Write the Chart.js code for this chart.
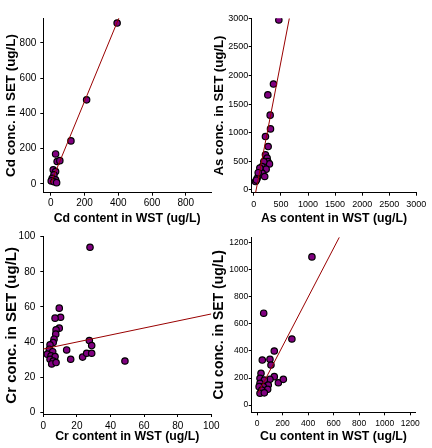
<!DOCTYPE html>
<html><head><meta charset="utf-8">
<script src="https://cdn.jsdelivr.net/npm/chart.js@4.4.0/dist/chart.umd.min.js"></script>
<style>
html,body{margin:0;padding:0;background:#fff;}
#wrap{position:relative;width:432px;height:448px;overflow:hidden;}
canvas{position:absolute;left:0;top:0;}
</style></head><body>
<div id="wrap">
<canvas id="cCd" width="432" height="448"></canvas>
<canvas id="cAs" width="432" height="448"></canvas>
<canvas id="cCr" width="432" height="448"></canvas>
<canvas id="cCu" width="432" height="448"></canvas>
</div>
<script>
// ---- Data ----
const cdX = [393, 212, 119, 28, 37, 53, 14, 28, 18, 8, 28, 2, 18, 34];
const cdY = [913, 477, 244, 170, 127, 132, 80, 70, 51, 32, 23, 17, 12, 7];
const cdTrendX = [0, 405];
const cdTrendY = [5, 945];
const cdTicks = [0, 200, 400, 600, 800];

const asX = [461, 362, 258, 301, 307, 214, 264, 214, 245, 258, 288, 184, 153, 227, 122, 92, 61, 30, 153, 110, 80, 48, 200];
const asY = [2970, 1850, 1660, 1306, 1066, 932, 757, 612, 554, 495, 454, 495, 408, 362, 320, 262, 204, 145, 292, 380, 300, 170, 233];
const asTrendX = [32, 655];
const asTrendY = [-50, 3000];
const asTicks = [0, 500, 1000, 1500, 2000, 2500, 3000];

const crX = [27.8, 48.6, 9.5, 10.3, 7, 9.5, 7.6, 7.4, 6.4, 5.9, 4, 3.6, 5.6, 2.4, 4.6, 7, 4, 5.9, 5, 7.6, 13.9, 16.3, 23.4, 25.8, 28.8, 27.4, 28.8];
const crY = [94, 29.2, 59.3, 54.1, 53.6, 47.9, 46.9, 44.5, 41.6, 39.7, 38.4, 35.9, 34.5, 33.1, 32.1, 31.7, 30.2, 29.2, 27.5, 28.3, 35.5, 30.2, 31.4, 33.6, 33.6, 40.8, 38];
const crTrendX = [0, 100];
const crTrendY = [36, 56];
const crTicks = [0, 20, 40, 60, 80, 100];

const cuX = [430, 52, 273, 135, 41, 101, 109, 31, 23, 135, 167, 206, 101, 57, 23, 88, 49, 16, 83, 37, 23, 57];
const cuY = [1097, 680, 489, 400, 333, 338, 296, 235, 198, 210, 165, 190, 190, 185, 160, 148, 136, 136, 116, 111, 87, 90];
const cuTrendX = [10, 645];
const cuTrendY = [91, 1243];
const cuTicks = [0, 200, 400, 600, 800, 1000, 1200];

// ---- Rendering ----
const FONT = '"Liberation Sans", Arial, sans-serif';
function pts(xs, ys) { return xs.map((x, i) => ({ x: x, y: ys[i] })); }

function axis(o) {
  return {
    type: 'linear', position: o.pos, min: o.min, max: o.max,
    afterBuildTicks: s => { s.ticks = o.ticks.map(v => ({ value: v })); },
    afterFit: s => {
      if (o.pos === 'left') s.width = o.size; else s.height = o.size;
      s.paddingLeft = 0; s.paddingRight = 0; s.paddingTop = 0; s.paddingBottom = 0;
    },
    grid: { display: true, drawOnChartArea: false, drawTicks: true, tickLength: 3, color: '#000', lineWidth: 1 },
    border: { display: true, color: '#000', width: 1 },
    ticks: { autoSkip: false, maxRotation: 0, minRotation: 0, color: '#000', padding: o.tickPad,
             callback: v => String(v),
             font: { family: FONT, size: o.tickSize } },
    title: { display: true, text: o.title, color: '#000', padding: 0,
             font: { family: FONT, size: o.titleSize, weight: 'bold', lineHeight: 1 } }
  };
}

function make(id, c) {
  new Chart(document.getElementById(id), {
    type: 'scatter',
    data: { datasets: [
      { data: pts(c.tx, c.ty), showLine: true, borderColor: '#990000', borderWidth: 1,
        pointRadius: 0, fill: false, order: 0 },
      { data: pts(c.x, c.y), pointStyle: 'circle', pointRadius: 3.2, backgroundColor: '#800080',
        borderColor: '#000', borderWidth: 1.2, order: 1 }
    ] },
    options: {
      responsive: false, animation: false, events: [],
      layout: { padding: c.pad },
      plugins: { legend: { display: false }, tooltip: { enabled: false } },
      scales: { x: axis(c.xa), y: axis(c.ya) }
    }
  });
}

make('cCd', {
  x: cdX, y: cdY, tx: cdTrendX, ty: cdTrendY,
  pad: { left: 4.5, right: 221, top: 18.3, bottom: 222.85 },
  xa: { pos: 'bottom', min: -45, max: 950, ticks: cdTicks, size: 32.45, tickPad: 2, tickSize: 10, title: 'Cd content in WST (ug/L)', titleSize: 12.3 },
  ya: { pos: 'left', min: -50, max: 940, ticks: cdTicks, size: 38.8, tickPad: 4, tickSize: 10, title: 'Cd conc. in SET (ug/L)', titleSize: 13.4 }
});
make('cAs', {
  x: asX, y: asY, tx: asTrendX, ty: asTrendY,
  pad: { left: 212.4, right: 15.7, top: 18.3, bottom: 222.85 },
  xa: { pos: 'bottom', min: -40, max: 3000, ticks: asTicks, size: 32.45, tickPad: 3.5, tickSize: 9, title: 'As content in WST (ug/L)', titleSize: 12.3 },
  ya: { pos: 'left', min: -50, max: 3000, ticks: asTicks, size: 39.3, tickPad: 0.5, tickSize: 9, title: 'As conc. in SET (ug/L)', titleSize: 13.2 }
});
make('cCr', {
  x: crX, y: crY, tx: crTrendX, ty: crTrendY,
  pad: { left: 4.7, right: 220.7, top: 236.7, bottom: 4.85 },
  xa: { pos: 'bottom', min: 0, max: 100, ticks: crTicks, size: 29.15, tickPad: 3, tickSize: 10, title: 'Cr content in WST (ug/L)', titleSize: 12.3 },
  ya: { pos: 'left', min: -1, max: 100, ticks: crTicks, size: 38.6, tickPad: 5, tickSize: 10, title: 'Cr conc. in SET (ug/L)', titleSize: 15 }
});
make('cCu', {
  x: cuX, y: cuY, tx: cuTrendX, ty: cuTrendY,
  pad: { left: 212, right: 16.7, top: 237.3, bottom: 4.85 },
  xa: { pos: 'bottom', min: -42, max: 1240, ticks: cuTicks, size: 30.85, tickPad: 3, tickSize: 8.5, title: 'Cu content in WST (ug/L)', titleSize: 12.3 },
  ya: { pos: 'left', min: -54, max: 1242, ticks: cuTicks, size: 39.7, tickPad: 0.5, tickSize: 8.5, title: 'Cu conc. in SET (ug/L)', titleSize: 14 }
});
</script>
</body></html>
